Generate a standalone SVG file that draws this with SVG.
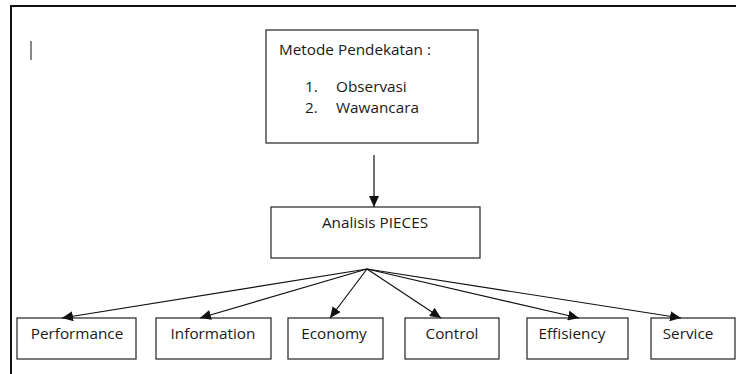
<svg xmlns="http://www.w3.org/2000/svg" width="736" height="374" viewBox="0 0 736 374">
<style>
.box{fill:#fff;stroke:#333;stroke-width:1.3}
.t{font-family:"Open Sans","Noto Sans",sans-serif;font-size:15.3px;fill:#1a1a1a}
.c{stroke:#111;stroke-width:1.2;fill:none;marker-end:url(#ah)}
</style>
<defs>
<marker id="ah" markerUnits="userSpaceOnUse" markerWidth="12" markerHeight="10" refX="11" refY="5" orient="auto">
<path d="M0,0 L11,5 L0,10 Z" fill="#111"/>
</marker>
</defs>
<rect width="736" height="374" fill="#fff"/>
<g id="frame">
<path d="M11,374 V6 H736" fill="none" stroke="#111" stroke-width="2"/>
<line x1="31" y1="41" x2="31" y2="60" stroke="#111" stroke-width="1"/>
</g>
<g id="metode">
<rect class="box" x="266" y="30" width="212" height="113"/>
<text class="t" x="279" y="55">Metode Pendekatan :</text>
<text class="t" x="305" y="92">1.</text>
<text class="t" x="336" y="92">Observasi</text>
<text class="t" x="305" y="113">2.</text>
<text class="t" x="336" y="113">Wawancara</text>
</g>
<g id="pieces">
<rect class="box" x="271" y="207" width="209" height="51"/>
<text class="t" x="375" y="228" text-anchor="middle">Analisis PIECES</text>
</g>
<g id="performance">
<rect class="box" x="17" y="318" width="119" height="41"/>
<text class="t" x="77" y="339" text-anchor="middle">Performance</text>
</g>
<g id="information">
<rect class="box" x="156" y="318" width="115" height="41"/>
<text class="t" x="213" y="339" text-anchor="middle">Information</text>
</g>
<g id="economy">
<rect class="box" x="288" y="318" width="95" height="41"/>
<text class="t" x="334" y="339" text-anchor="middle">Economy</text>
</g>
<g id="control">
<rect class="box" x="405" y="318" width="94" height="41"/>
<text class="t" x="452" y="339" text-anchor="middle">Control</text>
</g>
<g id="effisiency">
<rect class="box" x="527" y="318" width="101" height="41"/>
<text class="t" x="572" y="339" text-anchor="middle">Effisiency</text>
</g>
<g id="service">
<rect class="box" x="651" y="318" width="84" height="41"/>
<text class="t" x="688" y="339" text-anchor="middle">Service</text>
</g>
<g id="connectors">
<line class="c" x1="374" y1="155" x2="374" y2="207"/>
<line class="c" x1="367" y1="269" x2="62" y2="318"/>
<line class="c" x1="367" y1="269" x2="200" y2="318"/>
<line class="c" x1="367" y1="269" x2="330" y2="318"/>
<line class="c" x1="367" y1="269" x2="441" y2="318"/>
<line class="c" x1="367" y1="269" x2="579" y2="318"/>
<line class="c" x1="367" y1="269" x2="681" y2="318"/>
</g>
</svg>
